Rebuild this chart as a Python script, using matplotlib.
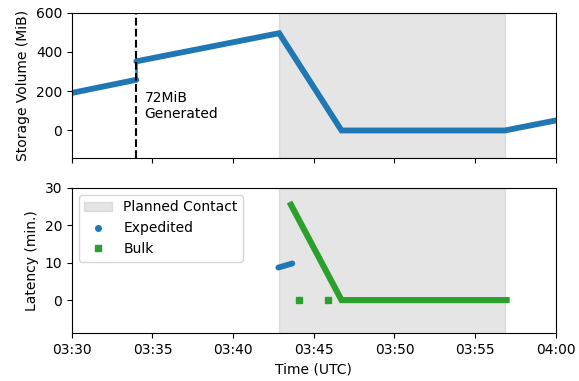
import datetime as dt
import matplotlib
matplotlib.use("Agg")
import matplotlib.pyplot as plt
import matplotlib.dates as mdates
from matplotlib.lines import Line2D
from matplotlib.patches import Patch

DAY = "2021-01-01 "

# storage volume (MiB) over time, before and after the 72MiB generation event
storage_t1 = ["03:30:00", "03:34:00"]
storage_v1 = [191, 258]
storage_t2 = ["03:34:00", "03:42:51", "03:46:43", "03:56:50", "04:00:00"]
storage_v2 = [352, 495, 0, 0, 51]
gen_time = "03:34:00"

contact_start = "03:42:50"
contact_end = "03:56:50"

# latency (min.)
exp_t = ["03:42:48", "03:43:40"]
exp_lat = [8.7, 9.8]
bulk_t = ["03:43:35", "03:46:43", "03:56:57"]
bulk_lat = [25.5, 0, 0]
bulk_iso_t = ["03:44:06", "03:45:54"]
bulk_iso_lat = [0, 0]

xlim = ["03:30:00", "04:00:00"]


def ts(lst):
    return [dt.datetime.strptime(DAY + s, "%Y-%m-%d %H:%M:%S") for s in lst]


blue = "#1f77b4"
green = "#2ca02c"

fig, (ax1, ax2) = plt.subplots(2, 1, figsize=(5.79, 3.81), dpi=100, sharex=True)
fig.subplots_adjust(left=0.124, right=0.96, top=0.967, bottom=0.125, hspace=0.206)

for ax in (ax1, ax2):
    ax.axvspan(ts([contact_start])[0], ts([contact_end])[0], color="gray", alpha=0.2, lw=1)

# top panel
ax1.plot(ts(storage_t1), storage_v1, color=blue, lw=4.2, solid_capstyle="round")
ax1.plot(ts(storage_t2), storage_v2, color=blue, lw=4.2, solid_capstyle="round",
         solid_joinstyle="miter")
ax1.plot(ts([gen_time, gen_time]), [storage_v1[-1], storage_v2[0]], color=blue, lw=1.8)
ax1.axvline(ts([gen_time])[0], color="black", ls="--", lw=1.5)
ax1.text(ts(["03:34:30"])[0], 123, "72MiB\nGenerated", fontsize=10, va="center", ha="left")
ax1.set_ylim(-140, 600)
ax1.set_yticks([0, 200, 400, 600])
ax1.set_ylabel("Storage Volume (MiB)", fontsize=10)

# bottom panel
ax2.plot(ts(exp_t), exp_lat, color=blue, lw=4.2, solid_capstyle="round")
ax2.plot(ts(bulk_t), bulk_lat, color=green, lw=4.4, solid_capstyle="projecting",
         solid_joinstyle="miter")
ax2.plot(ts(bulk_iso_t), bulk_iso_lat, ls="", marker="s", ms=4, color=green)
ax2.set_ylim(-8.9, 30)
ax2.set_yticks([0, 10, 20, 30])
ax2.set_ylabel("Latency (min.)", fontsize=10)
ax2.set_xlabel("Time (UTC)", fontsize=10)

handles = [
    Patch(facecolor="gray", alpha=0.2, edgecolor="gray"),
    Line2D([], [], ls="", marker="o", ms=4, color=blue),
    Line2D([], [], ls="", marker="s", ms=4, color=green),
]
ax2.legend(handles, ["Planned Contact", "Expedited", "Bulk"], loc="upper left", fontsize=10)

ax2.set_xlim(ts(xlim))
ax2.xaxis.set_major_locator(mdates.MinuteLocator(byminute=range(0, 60, 5)))
ax2.xaxis.set_major_formatter(mdates.DateFormatter("%H:%M"))

fig.savefig("out.png", dpi=100)
